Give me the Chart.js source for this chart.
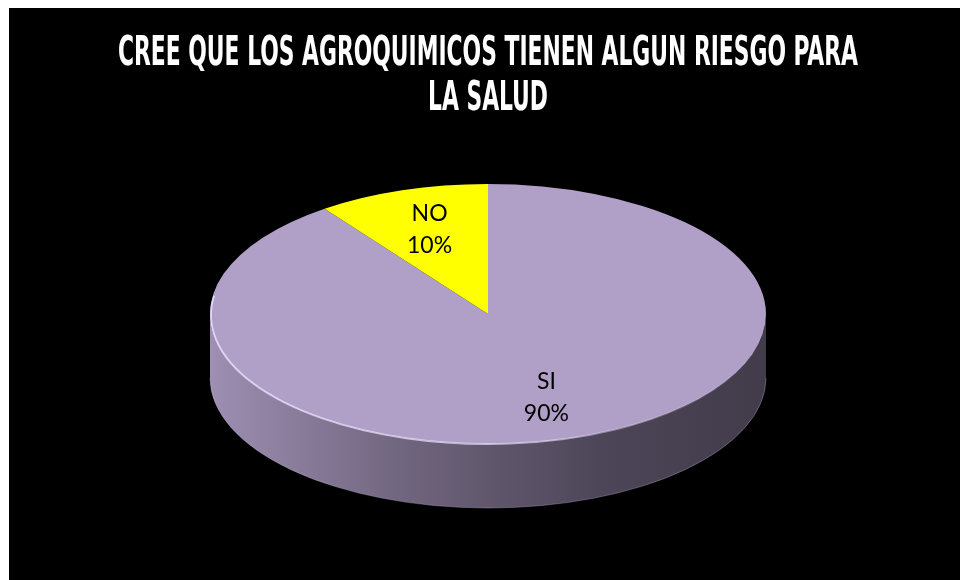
<!DOCTYPE html>
<html lang="es">
<head>
    <meta charset="UTF-8">
    <title>Agroquimicos y salud</title>
    <script src="https://cdn.jsdelivr.net/npm/chart.js"></script>
    <style>
        body {
            margin: 0;
            background-color: #ffffff;
        }

        .panel {
            position: absolute;
            left: 9px;
            top: 8px;
            width: 951px;
            height: 572px;
            background-color: #000000;
        }
    </style>
</head>
<body>
    <div class="panel">
        <canvas id="pieChart"></canvas>
    </div>

    <script>
        // Survey answers
        const categories = ['SI', 'NO'];
        const percentages = [90, 10];
        const sliceColors = ['#b09fc7', '#ffff00'];
        const titleLines = ['CREE QUE LOS AGROQUIMICOS TIENEN ALGUN RIESGO PARA', 'LA SALUD'];

        // Ellipse the flat pie gets squashed into, plus the wall height
        const disc = { cx: 479, cy: 306, rx: 278, ry: 130, depth: 64 };
        const labelRadius = 0.68;

        function shade(hex, f) {
            const n = parseInt(hex.slice(1), 16);
            const r = Math.round(((n >> 16) & 255) * f);
            const g = Math.round(((n >> 8) & 255) * f);
            const b = Math.round((n & 255) * f);
            return 'rgb(' + r + ',' + g + ',' + b + ')';
        }

        function wallGradient(ctx, color) {
            const grad = ctx.createLinearGradient(disc.cx - disc.rx, 0, disc.cx + disc.rx, 0);
            grad.addColorStop(0, shade(color, 0.9));
            grad.addColorStop(0.34, shade(color, 0.64));
            grad.addColorStop(0.5, shade(color, 0.55));
            grad.addColorStop(0.7, shade(color, 0.44));
            grad.addColorStop(1, shade(color, 0.37));
            return grad;
        }

        // Draws the side wall, squashes the pie into an ellipse and writes the labels
        const pie3d = {
            id: 'pie3d',
            beforeDatasetsDraw(chart) {
                const ctx = chart.ctx;
                const arcs = chart.getDatasetMeta(0).data;
                const { cx, cy, rx, ry, depth } = disc;

                arcs.forEach((arc, i) => {
                    for (let k = -1; k <= 1; k++) {
                        const a = Math.max(arc.startAngle, k * 2 * Math.PI);
                        const b = Math.min(arc.endAngle, k * 2 * Math.PI + Math.PI);
                        if (a >= b) continue;
                        ctx.save();
                        ctx.beginPath();
                        ctx.ellipse(cx, cy, rx, ry, 0, a, b);
                        ctx.ellipse(cx, cy + depth, rx, ry, 0, b, a, true);
                        ctx.closePath();
                        ctx.fillStyle = wallGradient(ctx, sliceColors[i]);
                        ctx.fill();
                        // faint edge along the bottom
                        ctx.beginPath();
                        ctx.ellipse(cx, cy + depth, rx, ry, 0, a, b);
                        ctx.strokeStyle = 'rgba(200, 190, 220, 0.35)';
                        ctx.lineWidth = 1;
                        ctx.stroke();
                        ctx.restore();
                    }
                });

                const c = arcs[0];
                ctx.save();
                ctx.translate(cx, cy);
                ctx.scale(rx / c.outerRadius, ry / c.outerRadius);
                ctx.translate(-c.x, -c.y);
            },
            afterDatasetsDraw(chart) {
                const ctx = chart.ctx;
                ctx.restore();

                const arcs = chart.getDatasetMeta(0).data;
                const { cx, cy, rx, ry } = disc;

                // light bevel on the front rim
                ctx.save();
                const rim = ctx.createLinearGradient(cx + rx, 0, cx - rx, 0);
                rim.addColorStop(0, 'rgba(230, 222, 250, 0)');
                rim.addColorStop(0.45, 'rgba(230, 222, 250, 0.7)');
                rim.addColorStop(1, 'rgba(230, 222, 250, 0.9)');
                ctx.beginPath();
                ctx.ellipse(cx, cy + 1, rx - 1, ry - 1, 0, 0.3, Math.PI + 0.15);
                ctx.strokeStyle = rim;
                ctx.lineWidth = 1.8;
                ctx.stroke();
                ctx.restore();

                const total = percentages.reduce((s, v) => s + v, 0);
                ctx.save();
                ctx.font = '23px Lato, "Open Sans", sans-serif';
                ctx.fillStyle = '#000000';
                ctx.textAlign = 'center';
                ctx.textBaseline = 'middle';
                arcs.forEach((arc, i) => {
                    const mid = (arc.startAngle + arc.endAngle) / 2;
                    const x = cx + labelRadius * rx * Math.cos(mid);
                    const y = cy + labelRadius * ry * Math.sin(mid);
                    ctx.fillText(categories[i], x, y - 16);
                    ctx.fillText(Math.round(percentages[i] / total * 100) + '%', x, y + 16);
                });
                ctx.restore();
            },
            afterDraw(chart) {
                const ctx = chart.ctx;
                ctx.save();
                ctx.font = 'bold 40px "Liberation Sans Narrow", "DejaVu Sans Condensed", sans-serif';
                ctx.fillStyle = '#ffffff';
                ctx.textAlign = 'center';
                ctx.textBaseline = 'alphabetic';
                const squeeze = Math.min(1, 740 / ctx.measureText(titleLines[0]).width);
                titleLines.forEach((line, i) => {
                    ctx.save();
                    ctx.translate(disc.cx, 57 + i * 45);
                    ctx.scale(squeeze, 1);
                    ctx.fillText(line, 0, 0);
                    ctx.restore();
                });
                ctx.restore();
            }
        };

        const pieCtx = document.getElementById('pieChart').getContext('2d');

        const pieChart = new Chart(pieCtx, {
            type: 'pie',
            data: {
                labels: categories,
                datasets: [{
                    data: percentages,
                    backgroundColor: sliceColors,
                    borderWidth: 0,
                    clip: false
                }]
            },
            options: {
                responsive: true,
                maintainAspectRatio: false,
                animation: false,
                events: [],
                rotation: 0,
                plugins: {
                    legend: { display: false },
                    tooltip: { enabled: false },
                    title: { display: false }
                }
            },
            plugins: [pie3d]
        });
    </script>
</body>
</html>
